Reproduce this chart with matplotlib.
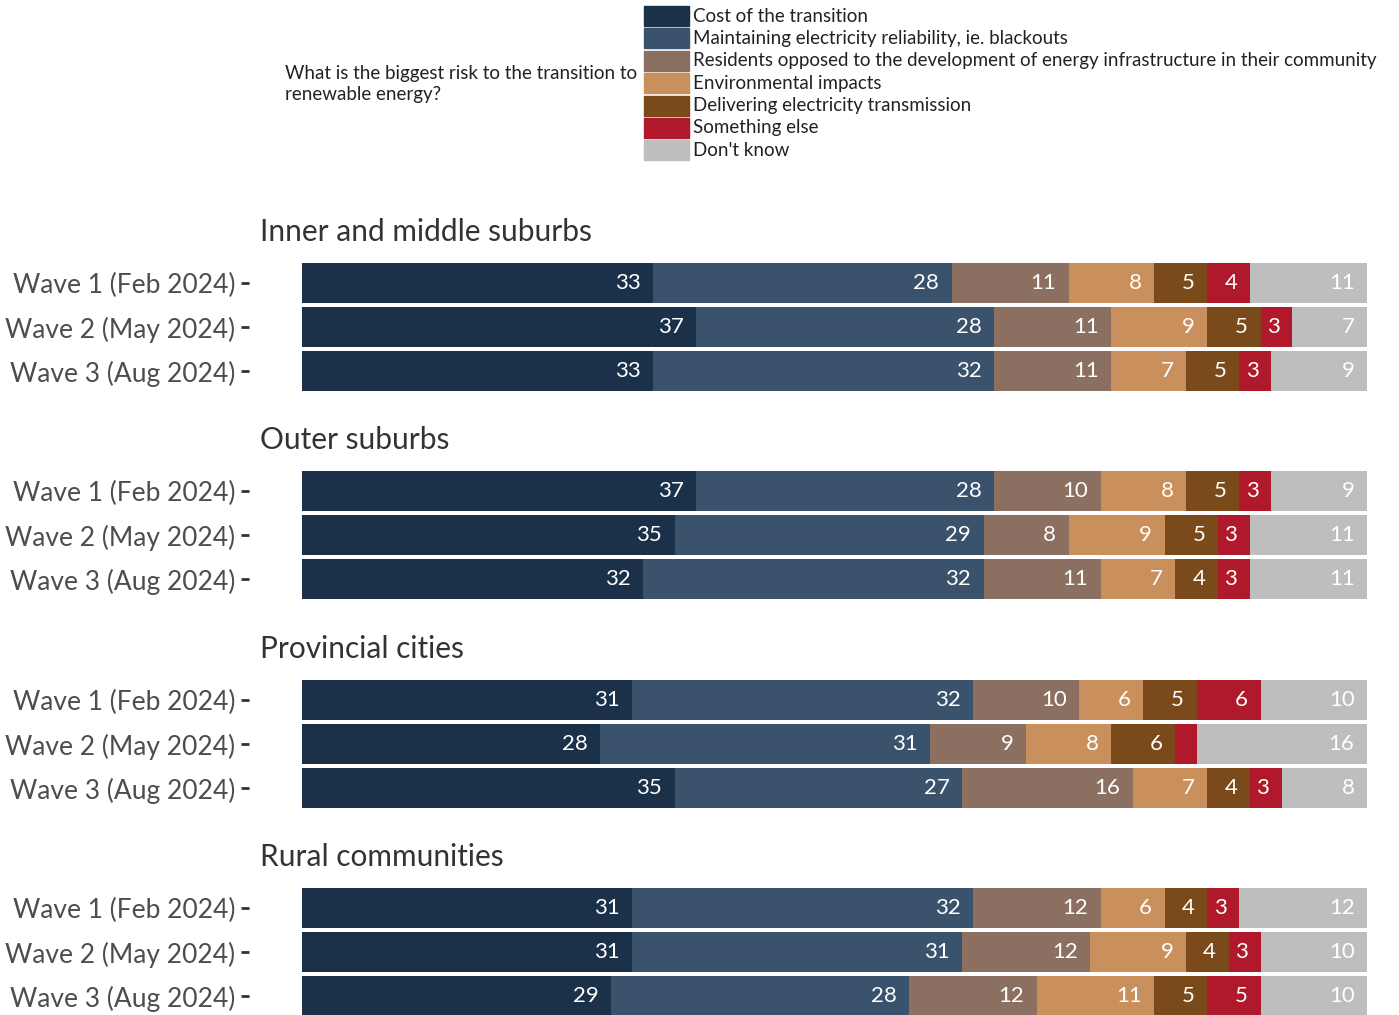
import matplotlib.pyplot as plt
from matplotlib.patches import Rectangle

plt.rcParams['font.family'] = ['Lato', 'DejaVu Sans']

categories = ["Cost of the transition",
              "Maintaining electricity reliability, ie. blackouts",
              "Residents opposed to the development of energy infrastructure in their community",
              "Environmental impacts",
              "Delivering electricity transmission",
              "Something else",
              "Don't know"]
colors = ["#1b3049", "#3a526c", "#8b7062", "#c98f5d", "#7b4a1b", "#b0192b", "#bebebe"]

waves = ["Wave 1 (Feb 2024)", "Wave 2 (May 2024)", "Wave 3 (Aug 2024)"]
regions = ["Inner and middle suburbs", "Outer suburbs", "Provincial cities", "Rural communities"]

inner = [[33, 28, 11, 8, 5, 4, 11],
         [37, 28, 11, 9, 5, 3, 7],
         [33, 32, 11, 7, 5, 3, 9]]
outer = [[37, 28, 10, 8, 5, 3, 9],
         [35, 29, 8, 9, 5, 3, 11],
         [32, 32, 11, 7, 4, 3, 11]]
provincial = [[31, 32, 10, 6, 5, 6, 10],
              [28, 31, 9, 8, 6, 2, 16],
              [35, 27, 16, 7, 4, 3, 8]]
rural = [[31, 32, 12, 6, 4, 3, 12],
         [31, 31, 12, 9, 4, 3, 10],
         [29, 28, 12, 11, 5, 5, 10]]
panels = [inner, outer, provincial, rural]

W, H = 1399, 1015
fig = plt.figure(figsize=(W / 100, H / 100), dpi=100)

# panel layout in pixels (top of axes), bars 44px pitch
tops = [261, 469, 678, 886]
ax_left, bar0, bar100 = 249, 302, 1367
xmin = -(bar0 - ax_left) / (bar100 - bar0) * 100

for region, data, top in zip(regions, panels, tops):
    ax = fig.add_axes([ax_left / W, 1 - (top + 132) / H, (bar100 - ax_left) / W, 132 / H])
    for i, row in enumerate(data):
        left = 0
        for j, v in enumerate(row):
            ax.barh(i, v, left=left, height=0.9, color=colors[j], edgecolor='none')
            if v >= 3:
                ax.annotate(str(v), (left + v, i), xytext=(-9, 0), textcoords='offset points',
                            ha='right', va='center', color='white', fontsize=16)
            left += v
    ax.set_xlim(xmin, 100)
    ax.set_ylim(2.5, -0.5)
    ax.set_yticks(range(3))
    ax.set_yticklabels(waves, fontsize=19, color='#4d4d4d')
    ax.tick_params(axis='y', length=6, width=2, color='#333333', pad=4)
    ax.tick_params(axis='x', bottom=False, labelbottom=False)
    for s in ax.spines.values():
        s.set_visible(False)
    fig.text(260 / W, 1 - (top - 29) / H, region, fontsize=21.5, color='#333333',
             va='center', ha='left')

# legend
fig.text(285 / W, 1 - 84 / H, "What is the biggest risk to the transition to\nrenewable energy?",
         fontsize=13.5, color='#222222', va='center', ha='left', linespacing=1.25)
for i, (name, col) in enumerate(zip(categories, colors)):
    yc = 16 + i * 22.4
    fig.add_artist(Rectangle((644 / W, 1 - (yc + 10) / H), 45 / W, 20 / H,
                             transform=fig.transFigure, color=col))
    fig.text(693 / W, 1 - yc / H, name, fontsize=13.5, color='#222222', va='center', ha='left')

fig.savefig("out.png", dpi=100)
